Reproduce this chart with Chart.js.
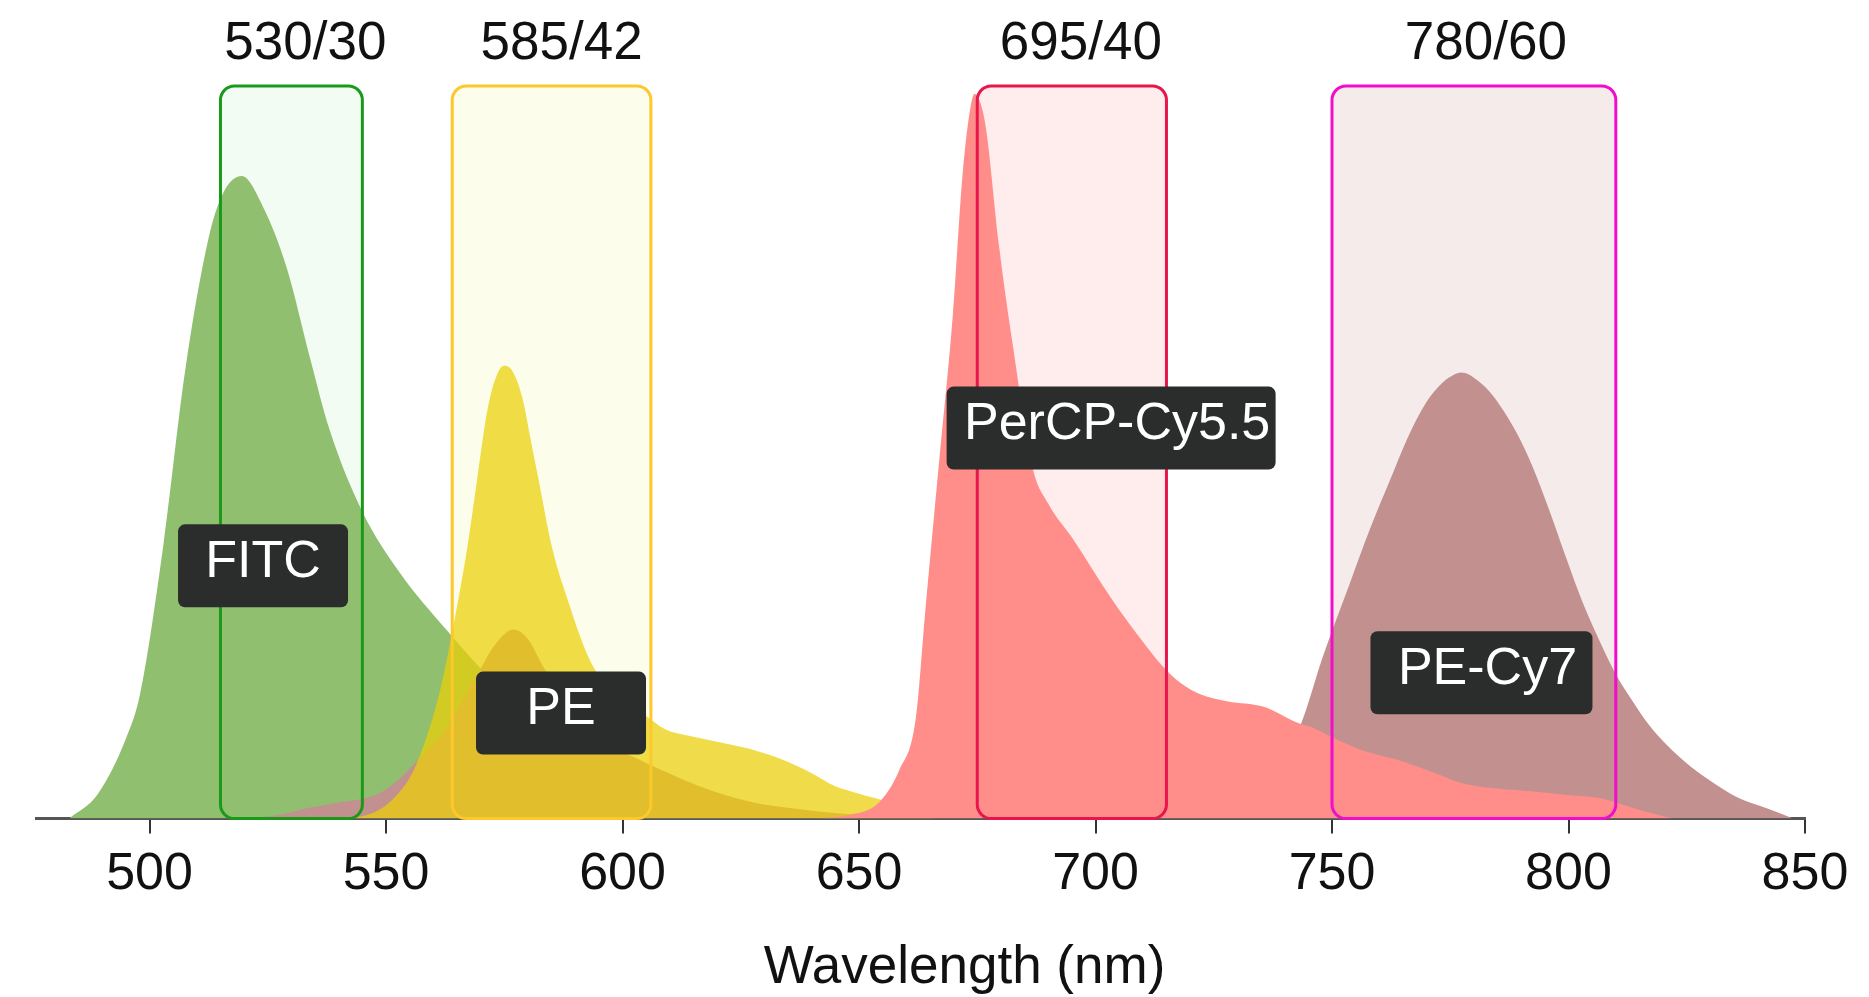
<!DOCTYPE html>
<html>
<head>
<meta charset="utf-8">
<script src="https://cdn.jsdelivr.net/npm/chart.js@4.4.1/dist/chart.umd.min.js"></script>
<style>
  html, body { margin: 0; padding: 0; background: #fff; }
  canvas { display: block; }
</style>
</head>
<body>
<canvas id="spectra" width="1869" height="997"></canvas>
<script>
// --- emission spectra (wavelength nm, relative intensity) ---
const fitcX = [483, 489, 495, 498, 503, 507.5, 512.5, 515.5, 519.5, 524, 529, 534, 538, 545, 553, 563, 570, 580, 590, 605, 625, 650];
const fitcY = [0, 0.033, 0.109, 0.17, 0.377, 0.61, 0.793, 0.853, 0.877, 0.835, 0.752, 0.627, 0.532, 0.419, 0.335, 0.256, 0.205, 0.14, 0.09, 0.045, 0.015, 0];

const peX = [543, 548, 552, 556, 561.2, 564.3, 567.3, 569.2, 571.5, 573.4, 575, 576.8, 578.8, 580.5, 582.3, 585.1, 588.7, 592.9, 596.4, 600, 605, 609, 614, 620, 627, 634, 640, 645, 650, 655, 660, 666];
const peY = [0, 0.01, 0.03, 0.068, 0.169, 0.265, 0.375, 0.46, 0.56, 0.605, 0.618, 0.61, 0.575, 0.52, 0.461, 0.37, 0.293, 0.219, 0.183, 0.16, 0.14, 0.122, 0.113, 0.105, 0.095, 0.08, 0.062, 0.044, 0.034, 0.025, 0.012, 0];

const pecy7X = [520, 528, 534, 540, 545, 549, 553, 556, 559, 562.6, 566, 569.6, 573, 577, 580, 583, 587, 592, 597, 602, 605, 616, 627, 637, 646, 660, 680, 700, 720, 730, 735, 740, 743.5, 748, 753.7, 758, 762.2, 766, 769.9, 773.5, 775.5, 777.3, 779, 781, 783, 785.4, 789, 792.5, 796, 799.5, 803, 806.6, 810, 813.6, 817, 820.7, 826, 831.3, 836, 841.9, 847.5];
const pecy7Y = [0, 0.006, 0.015, 0.022, 0.027, 0.036, 0.055, 0.075, 0.095, 0.122, 0.16, 0.2, 0.237, 0.258, 0.245, 0.21, 0.17, 0.125, 0.1, 0.085, 0.076, 0.045, 0.023, 0.013, 0.007, 0.004, 0.003, 0.003, 0.005, 0.012, 0.04, 0.085, 0.13, 0.22, 0.32, 0.395, 0.461, 0.52, 0.568, 0.596, 0.605, 0.609, 0.606, 0.597, 0.585, 0.565, 0.527, 0.479, 0.42, 0.356, 0.295, 0.242, 0.197, 0.16, 0.128, 0.101, 0.07, 0.046, 0.028, 0.014, 0];

const percpX = [640, 648, 654.2, 658.5, 662, 664.1, 667, 669.8, 671.9, 673.3, 674.4, 675.5, 676.8, 679.6, 682.5, 686.7, 690, 695.2, 703.6, 709, 714.2, 718, 722, 728, 735.4, 743, 746, 751, 757, 765, 771, 777.7, 785, 792.5, 800, 806.6, 811, 816, 822];
const percpY = [0, 0.005, 0.022, 0.066, 0.137, 0.29, 0.492, 0.685, 0.88, 0.96, 0.989, 0.98, 0.944, 0.782, 0.647, 0.479, 0.43, 0.382, 0.298, 0.25, 0.208, 0.185, 0.17, 0.16, 0.153, 0.13, 0.124, 0.108, 0.092, 0.078, 0.064, 0.048, 0.041, 0.037, 0.032, 0.028, 0.02, 0.01, 0];

// --- filters ---
const filterNames = ['530/30', '585/42', '695/40', '780/60'];
const filterCenters = [530, 585, 695, 780];
const filterWidths = [30, 42, 40, 60];

// --- dye labels (anchor in data units) ---
const dyeNames = ['FITC', 'PE', 'PerCP-Cy5.5', 'PE-Cy7'];
const dyeLabelX = [524, 587, 703.3, 781.6];
const dyeLabelY = [0.345, 0.144, 0.533, 0.199];

const xTicks = [500, 550, 600, 650, 700, 750, 800, 850];

// --- styles ---
const FONT = '"Liberation Sans", Arial, sans-serif';
const filterStyle = [
  { fill: '#f3fcf3', stroke: '#1a9a1a', dx: 14 },
  { fill: '#fdfdec', stroke: '#fcc82c', dx: 10 },
  { fill: '#ffeced', stroke: '#e8164b', dx: 9 },
  { fill: '#f6ebeb', stroke: '#f20ccb', dx: 12 },
];
const labelBoxW = [170, 170, 329, 222];

function pts(xs, ys) {
  return xs.map((x, i) => ({ x, y: ys[i] }));
}

function area(label, xs, ys, color, order) {
  return {
    label,
    data: pts(xs, ys),
    backgroundColor: color,
    borderWidth: 0,
    pointRadius: 0,
    fill: 'origin',
    cubicInterpolationMode: 'monotone',
    order,
  };
}

function filterRect(chart, i) {
  const x = chart.scales.x, y = chart.scales.y;
  const l = x.getPixelForValue(filterCenters[i] - filterWidths[i] / 2);
  const r = x.getPixelForValue(filterCenters[i] + filterWidths[i] / 2);
  const t = y.getPixelForValue(1);
  const b = y.getPixelForValue(0);
  return { l, r, t, b };
}

const filterPlugin = {
  id: 'filters',
  beforeDatasetsDraw(chart) {
    const ctx = chart.ctx;
    ctx.save();
    filterNames.forEach((_, i) => {
      const f = filterRect(chart, i);
      ctx.beginPath();
      ctx.roundRect(f.l, f.t, f.r - f.l, f.b - f.t, 14);
      ctx.fillStyle = filterStyle[i].fill;
      ctx.fill();
    });
    ctx.restore();
  },
  afterDatasetsDraw(chart) {
    const ctx = chart.ctx;
    ctx.save();
    filterNames.forEach((name, i) => {
      const f = filterRect(chart, i);
      ctx.beginPath();
      ctx.roundRect(f.l, f.t, f.r - f.l, f.b - f.t, 14);
      ctx.lineWidth = 3;
      ctx.strokeStyle = filterStyle[i].stroke;
      ctx.stroke();

      ctx.fillStyle = '#111';
      ctx.font = '53px ' + FONT;
      ctx.textAlign = 'center';
      ctx.textBaseline = 'middle';
      ctx.fillText(name, (f.l + f.r) / 2 + filterStyle[i].dx, f.t - 42);
    });
    ctx.restore();
  },
  afterDraw(chart) {
    const ctx = chart.ctx;
    const x = chart.scales.x, y = chart.scales.y;
    ctx.save();
    // dye name chips
    dyeNames.forEach((name, i) => {
      const cx = x.getPixelForValue(dyeLabelX[i]);
      const cy = y.getPixelForValue(dyeLabelY[i]);
      const w = labelBoxW[i], h = 83;
      ctx.beginPath();
      ctx.roundRect(cx - w / 2, cy - h / 2, w, h, 7);
      ctx.fillStyle = '#2b2d2c';
      ctx.fill();
      ctx.fillStyle = '#fff';
      ctx.font = '52px ' + FONT;
      ctx.textAlign = 'center';
      ctx.textBaseline = 'middle';
      ctx.fillText(name, cx + (i >= 2 ? 6 : 0), cy - 3);
    });
    // axis title
    const area = chart.chartArea;
    ctx.fillStyle = '#111';
    ctx.font = '53px ' + FONT;
    ctx.textAlign = 'center';
    ctx.textBaseline = 'middle';
    ctx.fillText('Wavelength (nm)', (area.left + area.right) / 2 + 44, 968);
    ctx.restore();
  },
};

new Chart(document.getElementById('spectra'), {
  type: 'line',
  data: {
    datasets: [
      area('PerCP-Cy5.5', percpX, percpY, 'rgb(255,142,138)', 0),
      area('PE', peX, peY, 'rgba(234,207,7,0.73)', 1),
      area('PE-Cy7', pecy7X, pecy7Y, 'rgb(194,145,143)', 2),
      area('FITC', fitcX, fitcY, 'rgb(145,191,112)', 3),
    ],
  },
  options: {
    responsive: false,
    animation: false,
    layout: { padding: { left: 36, right: 64, top: 86, bottom: 81 } },
    plugins: { legend: { display: false }, tooltip: { enabled: false } },
    scales: {
      x: {
        type: 'linear',
        min: 476,
        max: 850,
        afterBuildTicks: s => { s.ticks = xTicks.map(v => ({ value: v })); },
        grid: { drawOnChartArea: false, drawTicks: true, tickLength: 15, color: '#333', lineWidth: 2 },
        border: { display: true, color: '#555', width: 3 },
        ticks: {
          color: '#111',
          font: { size: 52, family: FONT },
          padding: 10,
          maxRotation: 0,
          autoSkip: false,
        },
      },
      y: { display: false, min: 0, max: 1 },
    },
  },
  plugins: [filterPlugin],
});
</script>
</body>
</html>
